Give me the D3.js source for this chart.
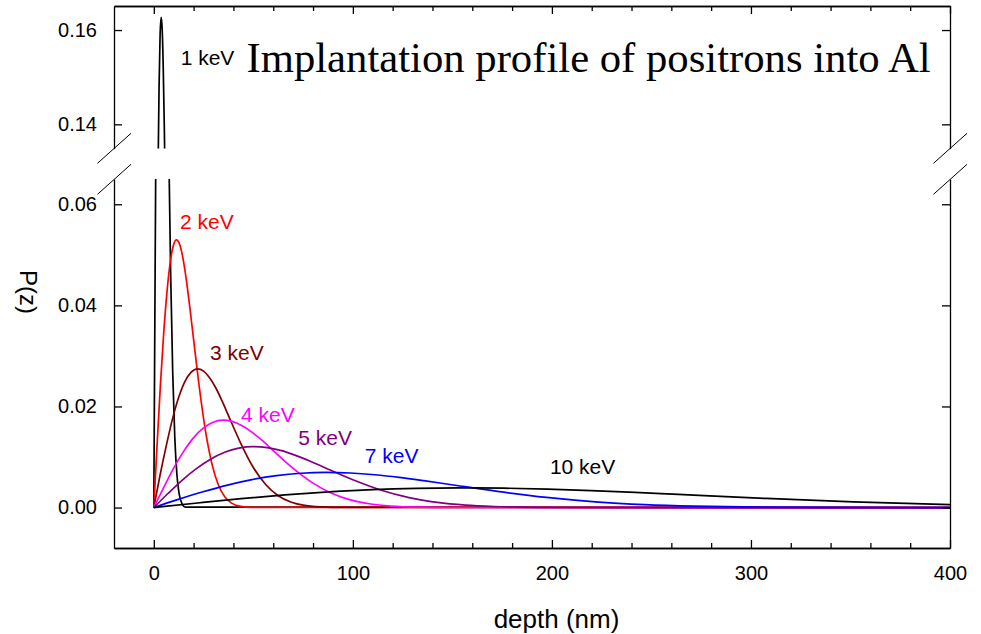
<!DOCTYPE html>
<html>
<head>
<meta charset="utf-8">
<script src="https://cdn.jsdelivr.net/npm/d3@7"></script>
<style>
  body { margin: 0; background: #fff; }
  svg { display: block; }
</style>
</head>
<body>
<svg class="chart" width="981" height="634"></svg>
<script>
// Values (depth in nm, P(z))
var labels = ["1 keV", "2 keV", "3 keV", "4 keV", "5 keV", "7 keV", "10 keV"];
var colors = ["#000000", "#ff0000", "#800000", "#ff00ff", "#800080", "#0000ff", "#000000"];

var depth1 = [0, 0.53, 1.05, 1.58, 2.11, 2.64, 3.16, 3.69, 4.22, 4.74, 5.27, 5.80, 6.32, 7.38, 8.43, 9.49, 10.54, 11.59, 12.65, 14.23, 15.81, 400];
var p1 = [0, 0.0376, 0.0729, 0.1041, 0.1294, 0.1478, 0.1589, 0.1627, 0.1601, 0.1519, 0.1396, 0.1245, 0.1079, 0.0748, 0.0469, 0.0268, 0.0139, 0.0066, 0.0029, 0.0007, 0.0001, 0];

var depth2 = [0, 1.62, 3.24, 4.86, 6.48, 8.10, 9.72, 11.34, 12.96, 14.58, 16.2, 17.82, 19.44, 22.68, 25.92, 29.16, 32.4, 35.64, 38.88, 43.74, 48.6, 400];
var p2 = [0, 0.01222, 0.02372, 0.03385, 0.04208, 0.04807, 0.05168, 0.05294, 0.05208, 0.04943, 0.04542, 0.04049, 0.03510, 0.02435, 0.01527, 0.00870, 0.00452, 0.00215, 0.00093, 0.00023, 0.00004, 0];

var depth3 = [0, 3.1, 6.3, 9.4, 12.5, 15.6, 18.8, 21.9, 25.0, 28.1, 31.3, 34.4, 37.5, 43.8, 50.0, 56.3, 62.5, 68.8, 75.0, 84.4, 93.8, 400];
var p3 = [0, 0.00634, 0.01230, 0.01755, 0.02181, 0.02492, 0.02679, 0.02745, 0.02700, 0.02562, 0.02355, 0.02099, 0.01820, 0.01262, 0.00792, 0.00451, 0.00235, 0.00111, 0.00048, 0.00012, 0.00002, 0];

var depth4 = [0, 5.0, 9.9, 14.9, 19.8, 24.8, 29.8, 34.7, 39.7, 44.6, 49.6, 54.6, 59.5, 69.4, 79.4, 89.3, 99.2, 109.1, 119.0, 133.9, 148.8, 400];
var p4 = [0, 0.00399, 0.00775, 0.01106, 0.01374, 0.01570, 0.01688, 0.01729, 0.01701, 0.01614, 0.01483, 0.01323, 0.01146, 0.00795, 0.00499, 0.00284, 0.00148, 0.00070, 0.00030, 0.00007, 0.00001, 0];

var depth5 = [0, 7.1, 14.2, 21.4, 28.5, 35.6, 42.7, 49.8, 57.0, 64.1, 71.2, 78.3, 85.4, 99.7, 113.9, 128.2, 142.4, 156.6, 170.9, 192.2, 213.6, 400];
var p5 = [0, 0.00278, 0.00540, 0.00770, 0.00957, 0.01094, 0.01176, 0.01205, 0.01185, 0.01125, 0.01033, 0.00921, 0.00799, 0.00554, 0.00348, 0.00198, 0.00103, 0.00049, 0.00021, 0.00005, 0.00001, 0];

var depth7 = [0, 12.3, 24.7, 37.0, 49.3, 61.7, 74.0, 86.3, 98.6, 111.0, 123.3, 135.6, 148.0, 172.6, 197.3, 221.9, 246.6, 271.3, 295.9, 332.9, 369.9, 400];
var p7 = [0, 0.00161, 0.00312, 0.00445, 0.00553, 0.00632, 0.00679, 0.00696, 0.00684, 0.00649, 0.00597, 0.00532, 0.00461, 0.00320, 0.00201, 0.00114, 0.00059, 0.00028, 0.00012, 0.00003, 0.00001, 0];

var depth10 = [0, 22.0, 43.9, 65.9, 87.9, 109.9, 131.8, 153.8, 175.8, 197.7, 219.7, 241.7, 263.6, 307.6, 351.5, 400];
var p10 = [0, 0.00090, 0.00175, 0.00250, 0.00310, 0.00355, 0.00381, 0.00390, 0.00384, 0.00365, 0.00335, 0.00299, 0.00259, 0.00180, 0.00113, 0.00060];

var xTicks = [0, 100, 200, 300, 400];
var xMinorTicks = [20, 40, 60, 80, 120, 140, 160, 180, 220, 240, 260, 280, 320, 340, 360, 380];
var yLowTicks = [0.00, 0.02, 0.04, 0.06];
var yHighTicks = [0.14, 0.16];

var depths = [depth1, depth2, depth3, depth4, depth5, depth7, depth10];
var values = [p1, p2, p3, p4, p5, p7, p10];

// Label anchor (depth, P) for each curve
var labelDepth = [13.5, 13.2, 28.2, 43.8, 72.6, 106.0, 199.0];
var labelP = [0.1525, 0.0551, 0.0291, 0.0169, 0.0124, 0.0089, 0.0067];

var svg = d3.select(".chart");
var fontSans = "'Liberation Sans', Arial, sans-serif";

// Frame geometry
var left = 114, right = 950;
var lowTop = 179, lowBottom = 548;
var highTop = 6, highBottom = 148.6;

var x = d3.scaleLinear().domain([-20, 400]).range([left, right]);
var yLow = d3.scaleLinear().domain([-0.008, 0.065]).range([lowBottom, lowTop]);
var yHigh = d3.scaleLinear().domain([0.13485, 0.1651]).range([highBottom, highTop]);

// Clip paths for both panels
var defs = svg.append("defs");
defs.append("clipPath").attr("id", "clipLow").append("rect")
    .attr("x", left).attr("y", lowTop).attr("width", right - left).attr("height", lowBottom - lowTop);
defs.append("clipPath").attr("id", "clipHigh").append("rect")
    .attr("x", left).attr("y", highTop).attr("width", right - left).attr("height", highBottom - highTop);

var series = labels.map(function(l, i) {
    return { label: l, color: colors[i], pts: depths[i].map(function(d, j) { return [d, values[i][j]]; }) };
});

function drawCurves(yScale, clipId) {
    var line = d3.line()
        .x(function(d) { return x(d[0]); })
        .y(function(d) { return yScale(d[1]); })
        .curve(d3.curveMonotoneX);
    svg.append("g")
        .attr("clip-path", "url(#" + clipId + ")")
        .selectAll("path")
        .data(series)
        .enter()
            .append("path")
            .attr("fill", "none")
            .attr("stroke", function(d) { return d.color; })
            .attr("stroke-width", 1.7)
            .attr("d", function(d) { return line(d.pts); });
}

drawCurves(yLow, "clipLow");
drawCurves(yHigh, "clipHigh");

function styleAxis(g) {
    g.selectAll("path, line").attr("stroke", "#000").attr("stroke-width", 1.3);
    g.selectAll("text").attr("font-family", fontSans).attr("font-size", 20).attr("fill", "#000");
}

// Bottom axis
svg.append("g")
    .attr("transform", "translate(0," + lowBottom + ")")
    .call(d3.axisBottom(x).tickValues(xTicks).tickSizeInner(-8).tickSizeOuter(0).tickPadding(18))
    .call(styleAxis);
svg.append("g")
    .attr("transform", "translate(0," + lowBottom + ")")
    .call(d3.axisBottom(x).tickValues(xMinorTicks).tickSizeInner(-5).tickSizeOuter(0).tickFormat(""))
    .call(styleAxis);

// Top axis
svg.append("g")
    .attr("transform", "translate(0," + highTop + ")")
    .call(d3.axisTop(x).tickValues(xTicks).tickSizeInner(-8).tickSizeOuter(0).tickFormat(""))
    .call(styleAxis);
svg.append("g")
    .attr("transform", "translate(0," + highTop + ")")
    .call(d3.axisTop(x).tickValues(xMinorTicks).tickSizeInner(-5).tickSizeOuter(0).tickFormat(""))
    .call(styleAxis);

// Left axes
svg.append("g")
    .attr("transform", "translate(" + left + ",0)")
    .call(d3.axisLeft(yLow).tickValues(yLowTicks).tickFormat(d3.format(".2f")).tickSizeInner(-8).tickSizeOuter(0).tickPadding(17))
    .call(styleAxis);
svg.append("g")
    .attr("transform", "translate(" + left + ",0)")
    .call(d3.axisLeft(yHigh).tickValues(yHighTicks).tickFormat(d3.format(".2f")).tickSizeInner(-8).tickSizeOuter(0).tickPadding(17))
    .call(styleAxis);

// Right axes
svg.append("g")
    .attr("transform", "translate(" + right + ",0)")
    .call(d3.axisRight(yLow).tickValues(yLowTicks).tickFormat("").tickSizeInner(-8).tickSizeOuter(0))
    .call(styleAxis);
svg.append("g")
    .attr("transform", "translate(" + right + ",0)")
    .call(d3.axisRight(yHigh).tickValues(yHighTicks).tickFormat("").tickSizeInner(-8).tickSizeOuter(0))
    .call(styleAxis);

// Axis break marks
[left, right].forEach(function(ax) {
    [0, 31].forEach(function(off) {
        svg.append("line")
            .attr("x1", ax - 16.5).attr("y1", 163.3 + off)
            .attr("x2", ax + 17).attr("y2", 133.3 + off)
            .attr("stroke", "#000")
            .attr("stroke-width", 1);
    });
});

// Curve labels
svg.selectAll(".curve-label")
    .data(series)
    .enter()
        .append("text")
        .attr("class", "curve-label")
        .attr("x", function(d, i) { return x(labelDepth[i]); })
        .attr("y", function(d, i) { return i === 0 ? yHigh(labelP[i]) : yLow(labelP[i]); })
        .attr("font-family", fontSans)
        .attr("font-size", 21)
        .attr("fill", function(d) { return d.color; })
        .text(function(d) { return d.label; });

// Title
svg.append("text")
    .attr("x", 246.5)
    .attr("y", 72)
    .attr("font-family", "'Liberation Serif', 'Times New Roman', serif")
    .attr("font-size", 42.7)
    .attr("fill", "#000")
    .text("Implantation profile of positrons into Al");

// Axis titles
svg.append("text")
    .attr("x", 556.5)
    .attr("y", 628)
    .attr("text-anchor", "middle")
    .attr("font-family", fontSans)
    .attr("font-size", 26)
    .text("depth (nm)");

svg.append("text")
    .attr("transform", "translate(20,292) rotate(90)")
    .attr("text-anchor", "middle")
    .attr("font-family", fontSans)
    .attr("font-size", 24)
    .text("P(z)");
</script>
</body>
</html>
